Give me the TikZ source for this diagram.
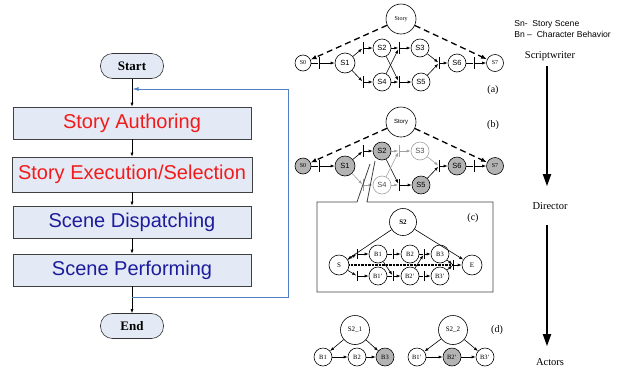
\documentclass[tikz,border=0pt]{standalone}
\usepackage{fontspec}
\setmainfont{Liberation Serif}
\setsansfont{Liberation Sans}
\usetikzlibrary{arrows.meta}
\definecolor{boxfill}{HTML}{E4EAF5}
\definecolor{fred}{HTML}{F21A1A}
\definecolor{fblue}{HTML}{1C1C9C}
\definecolor{fbline}{HTML}{4F7FC4}
\definecolor{gfill}{HTML}{B3B3B3}
\definecolor{lgray}{HTML}{A0A0A0}
\begin{document}
\begin{tikzpicture}[x=1pt,y=-1pt,line width=0.6pt,
  >={Latex[length=4pt,width=3pt]},
  fbox/.style={draw=black!75,fill=boxfill,minimum width=238pt,minimum height=32pt,inner sep=0pt,font=\sffamily\fontsize{20}{20}\selectfont},
  term/.style={draw=black!80,fill=boxfill,rounded corners=12pt,minimum width=63pt,minimum height=25pt,inner sep=0pt,font=\bfseries\fontsize{13}{13}\selectfont},
  st/.style={circle,draw,fill=white,inner sep=0pt,minimum size=18pt,font=\sffamily\fontsize{7.5}{7.5}\selectfont},
  sts/.style={st,minimum size=16pt,font=\fontsize{6}{6}\selectfont},
  story/.style={circle,draw,fill=white,inner sep=0pt,minimum size=30pt,font=\fontsize{6}{6}\selectfont},
  tb/.style={rectangle,fill=black,draw=none,minimum width=0.9pt,minimum height=12pt,inner sep=0pt},
  gtb/.style={tb,fill=lgray},
  dashar/.style={line width=1.3pt,dash pattern=on 6pt off 4pt,-{Latex[length=6pt,width=4.5pt]}},
  act/.style={fill=gfill},
  inact/.style={draw=lgray,text=black!70},
  gl/.style={draw=lgray},
  bn/.style={circle,draw,fill=white,inner sep=0pt,minimum size=18pt,font=\fontsize{6.5}{6.5}\selectfont},
  lab/.style={font=\fontsize{10}{10}\selectfont},
  role/.style={inner sep=0pt,font=\fontsize{10.5}{11}\selectfont},
  bigar/.style={line width=1.8pt,-{Triangle[length=12pt,width=8pt]}},
  leg/.style={anchor=west,inner sep=0pt,font=\sffamily\fontsize{8.6}{9}\selectfont}
]
\useasboundingbox (0,0) rectangle (623,381);

% ---------- flowchart ----------
\node[term] (start) at (132,66) {Start};
\node[fbox,text=fred] (sa) at (132,123) {Story Authoring};
\node[fbox,text=fred,minimum width=240pt,minimum height=35pt] (se) at (132,174.5) {Story Execution/Selection};
\node[fbox,text=fblue] (sd) at (132,222) {Scene Dispatching};
\node[fbox,text=fblue] (sp) at (132,270) {Scene Performing};
\node[term] (end) at (132,326) {End};
\draw[->] (start) -- (sa);
\draw[->] (sa) -- (se);
\draw[->] (se) -- (sd);
\draw[->] (sd) -- (sp);
\draw[->] (sp) -- (end);
\coordinate (fb0) at (132,297);
\coordinate (fb1) at (288,297);
\coordinate (fb2) at (288,89);
\coordinate (fb3) at (132.6,89);
\draw[fbline,line width=0.8pt,-{Latex[length=6pt,width=4pt]}] (fb0) -- (fb1) -- (fb2) -- (fb3);

% ---------- (a) ----------
\node[story] (aStory) at (401,19) {Story};
\node[sts] (aS0) at (303,63) {S0};
\node[st,minimum size=20pt] (aS1) at (345,63) {S1};
\node[st] (aS2) at (382,48) {S2};
\node[st] (aS3) at (420,48) {S3};
\node[st] (aS4) at (382,82) {S4};
\node[st] (aS5) at (421,82) {S5};
\node[st] (aS6) at (457,63) {S6};
\node[sts,minimum size=17pt] (aS7) at (495,63) {S7};
\node[tb] (at0) at (319,63) {};
\node[tb] (at1u) at (363,48) {};
\node[tb] (at1d) at (363,82) {};
\node[tb] (at2u) at (399,48) {};
\node[tb] (at2d) at (399,82) {};
\node[tb] (at3) at (439,63) {};
\node[tb] (at4) at (474,63) {};
\draw (aS0) -- (at0); \draw[->] (at0) -- (aS1);
\draw[->] (aS1) -- (at1u); \draw[->] (at1u) -- (aS2);
\draw[->] (aS1) -- (at1d); \draw[->] (at1d) -- (aS4);
\draw[->] (aS2) -- (at2u); \draw[->] (at2u) -- (aS3);
\draw[->] (aS4) -- (at2d); \draw[->] (at2d) -- (aS5);
\draw[->] (aS2) -- (at2d);
\draw[->] (aS4) -- (at2u);
\draw[->] (aS3) -- (at3); \draw[->] (aS5) -- (at3); \draw[->] (at3) -- (aS6);
\draw (aS6) -- (at4); \draw[->] (at4) -- (aS7);
\draw[dashar] (aStory) -- (aS0);
\draw[dashar] (aStory) -- (aS7);
\node[lab] (la) at (493,90) {(a)};

% ---------- (b) ----------
\node[story,font=\sffamily\fontsize{6}{6}\selectfont] (bStory) at (401,122) {Story};
\node[sts,act] (bS0) at (303,166) {S0};
\node[st,act,minimum size=20pt] (bS1) at (345,166) {S1};
\node[st,act] (bS2) at (382,151) {S2};
\node[st,inact] (bS3) at (420,151) {S3};
\node[st,inact] (bS4) at (382,185) {S4};
\node[st,act] (bS5) at (421,185) {S5};
\node[st,act] (bS6) at (457,166) {S6};
\node[sts,act,minimum size=17pt] (bS7) at (495,166) {S7};
\node[tb] (bt0) at (319,166) {};
\node[tb] (bt1u) at (363,151) {};
\node[gtb] (bt1d) at (363,185) {};
\node[gtb] (bt2u) at (399,151) {};
\node[tb] (bt2d) at (399,185) {};
\node[tb] (bt3) at (439,166) {};
\node[tb] (bt4) at (474,166) {};
\draw (bS0) -- (bt0); \draw[->] (bt0) -- (bS1);
\draw[->] (bS1) -- (bt1u); \draw[->] (bt1u) -- (bS2);
\draw[->,gl] (bS1) -- (bt1d); \draw[->,gl] (bt1d) -- (bS4);
\draw[->,gl] (bS2) -- (bt2u); \draw[->,gl] (bt2u) -- (bS3);
\draw[->,gl] (bS4) -- (bt2d); \draw[->] (bt2d) -- (bS5);
\draw[->] (bS2) -- (bt2d);
\draw[->,gl] (bS4) -- (bt2u);
\draw[->,gl] (bS3) -- (bt3); \draw[->] (bS5) -- (bt3); \draw[->] (bt3) -- (bS6);
\draw (bS6) -- (bt4); \draw[->] (bt4) -- (bS7);
\draw[dashar] (bStory) -- (bS0);
\draw[dashar] (bStory) -- (bS7);
\node[lab] (lb) at (493,125) {(b)};

% ---------- callout and box (c) ----------
\coordinate (co1) at (370,164);
\coordinate (co2) at (375,161);
\coordinate (bx1) at (357,202);
\coordinate (bx2) at (317,202);
\coordinate (bx3) at (317,292);
\coordinate (bx4) at (493,292);
\coordinate (bx5) at (493,202);
\coordinate (bx6) at (367,202);
\draw[black!75,line width=0.8pt] (co1) -- (bx1) -- (bx2) -- (bx3) -- (bx4) -- (bx5) -- (bx6) -- (co2);

\node[bn,minimum size=27pt,font=\bfseries\fontsize{7}{7}\selectfont] (cS2) at (403,222) {S2};
\node[lab] (lc) at (473,218) {(c)};
\node[bn,minimum size=20pt,font=\fontsize{7}{7}\selectfont] (cS) at (339,265) {S};
\node[bn,minimum size=20pt,font=\fontsize{7}{7}\selectfont] (cE) at (472,265) {E};
\node[bn] (cB1) at (378,254) {B1};
\node[bn] (cB2) at (410,254) {B2};
\node[bn] (cB3) at (440,254) {B3};
\node[bn] (cB1p) at (378,276) {B1'};
\node[bn] (cB2p) at (410,276) {B2'};
\node[bn] (cB3p) at (440,276) {B3'};
\node[tb,minimum height=10pt] (ct0u) at (357,254) {};
\node[tb,minimum height=10pt] (ct0d) at (357,276) {};
\node[tb,minimum height=10pt] (ct1u) at (393,254) {};
\node[tb,minimum height=10pt] (ct2u) at (424,254) {};
\node[tb,minimum height=10pt] (ct1d) at (393,276) {};
\node[tb,minimum height=10pt] (ct2d) at (424,276) {};
\node[tb,minimum height=10pt] (cte) at (453,265) {};
\draw[->] (cS2) -- (cS);
\draw[->] (cS2) -- (cE);
\draw[-{Latex[open,length=4pt,width=3pt]}] (cS) -- (ct0u); \draw[->] (ct0u) -- (cB1);
\draw[-{Latex[open,length=4pt,width=3pt]}] (cS) -- (ct0d); \draw[->] (ct0d) -- (cB1p);
\draw (cB1) -- (ct1u); \draw[->] (ct1u) -- (cB2);
\draw (cB2) -- (ct2u); \draw[->] (ct2u) -- (cB3);
\draw (cB1p) -- (ct1d); \draw[->] (ct1d) -- (cB2p);
\draw (cB2p) -- (ct2d); \draw[->] (ct2d) -- (cB3p);
\draw[->] (cB1) -- (ct1d);
\draw[->] (cB2p) -- (ct2u);
\draw[->] (cB3) -- (cte); \draw[->] (cB3p) -- (cte); \draw[->] (cte) -- (cE);
\draw[line width=1.3pt,dash pattern=on 0.8pt off 0.6pt] (cS) -- (cte);

% ---------- (d) ----------
\node[bn,minimum size=29pt,font=\fontsize{7}{7}\selectfont] (dS21) at (355,330) {S2\_1};
\node[bn] (dB1) at (323,357) {B1};
\node[bn] (dB2) at (357,357) {B2};
\node[bn,act] (dB3) at (385,357) {B3};
\node[bn,minimum size=29pt,font=\fontsize{7}{7}\selectfont] (dS22) at (453,330) {S2\_2};
\node[bn] (dB1p) at (417,357) {B1'};
\node[bn,act] (dB2p) at (452,357) {B2'};
\node[bn] (dB3p) at (485,357) {B3'};
\node[lab] (ld) at (497,330) {(d)};
\draw[->] (dS21) -- (dB1);
\draw[->] (dS21) -- (dB3);
\draw[->] (dB1) -- (dB2);
\draw[->] (dB2) -- (dB3);
\draw[->] (dS22) -- (dB1p);
\draw[->] (dS22) -- (dB3p);
\draw[->] (dB1p) -- (dB2p);
\draw[->] (dB2p) -- (dB3p);

% ---------- legend and roles ----------
\node[leg] (legS) at (514,24) {Sn-\ \ Story Scene};
\node[leg] (legB) at (514,34) {Bn –\ \ Character Behavior};
\node[role] (scr) at (550,56) {Scriptwriter};
\node[role] (dir) at (550,206) {Director};
\node[role] (act) at (550,362) {Actors};
\draw[bigar,shorten <=5pt,shorten >=16pt] ([xshift=-3pt]scr.south) -- ([xshift=-3pt]dir.north);
\draw[bigar,shorten <=15pt,shorten >=12pt] ([xshift=-3pt]dir.south) -- ([xshift=-3pt]act.north);
\end{tikzpicture}
\end{document}
